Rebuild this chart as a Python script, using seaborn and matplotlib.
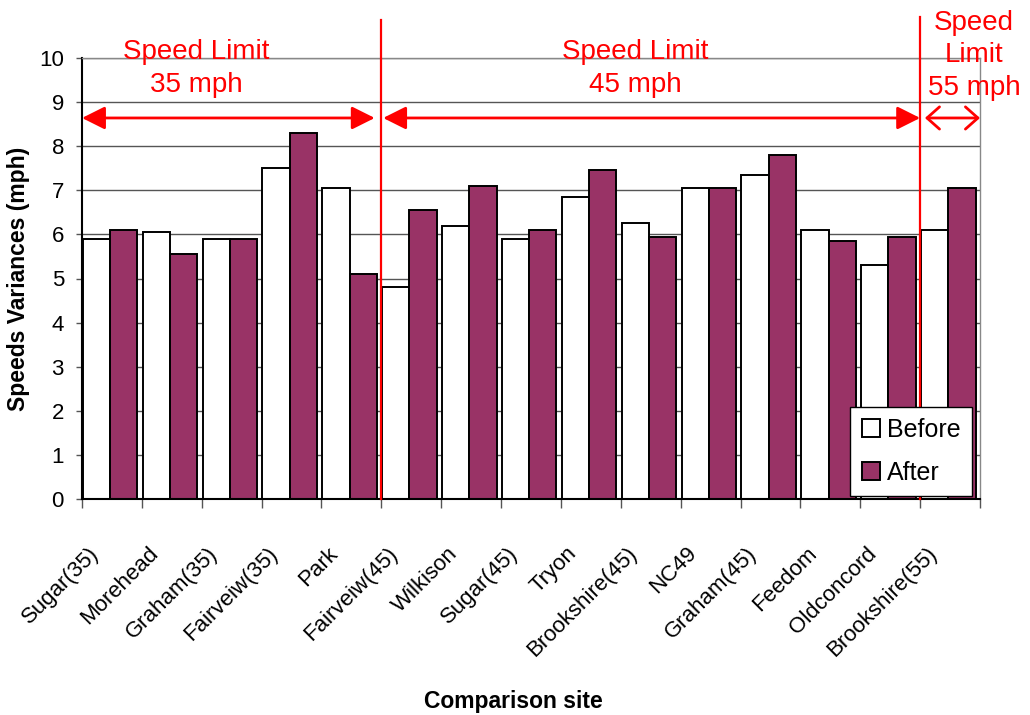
import numpy as np
import pandas as pd
import seaborn as sns
import matplotlib
matplotlib.use("Agg")
import matplotlib.pyplot as plt
from matplotlib.patches import FancyArrowPatch
from matplotlib.transforms import ScaledTranslation

# Comparison sites, their posted speed limit and the speed variances
sites = ["Sugar(35)", "Morehead", "Graham(35)", "Fairveiw(35)", "Park",
         "Fairveiw(45)", "Wilkison", "Sugar(45)", "Tryon", "Brookshire(45)",
         "NC49", "Graham(45)", "Feedom", "Oldconcord", "Brookshire(55)"]
speed_limits = [35, 35, 35, 35, 35, 45, 45, 45, 45, 45, 45, 45, 45, 45, 55]
before = [5.9, 6.05, 5.9, 7.5, 7.05, 4.8, 6.2, 5.9, 6.85, 6.25, 7.05, 7.35, 6.1, 5.3, 6.1]
after = [6.1, 5.55, 5.9, 8.3, 5.1, 6.55, 7.1, 6.1, 7.45, 5.95, 7.05, 7.8, 5.85, 5.95, 7.05]
periods = ["Before", "After"]
y_ticks = list(range(0, 11))

df = pd.DataFrame({
    "site": sites * 2,
    "period": [periods[0]] * len(sites) + [periods[1]] * len(sites),
    "value": before + after,
})

plt.rcParams["font.family"] = ["Liberation Sans", "DejaVu Sans"]

fig = plt.figure(figsize=(10.3, 7.15), dpi=100)
ax = fig.add_axes([82 / 1030, 1 - 499 / 715, 898 / 1030, 441 / 715])

sns.barplot(data=df, x="site", y="value", hue="period", hue_order=periods,
            palette={"Before": "white", "After": "#993366"}, saturation=1,
            width=0.91, gap=0, edgecolor="black", linewidth=1.4,
            errorbar=None, legend=False, ax=ax)

# category bands: group is offset slightly left inside each band
left_pad = 0.47
ax.set_xlim(-left_pad, len(sites) - left_pad)
ax.set_ylim(0, 10)
ax.set_yticks(y_ticks)
ax.set_axisbelow(True)
ax.yaxis.grid(True, color="#555555", lw=1)
ax.xaxis.grid(False)

for side in ("left", "bottom"):
    ax.spines[side].set_color("black")
    ax.spines[side].set_linewidth(1.5)
for side in ("top", "right"):
    ax.spines[side].set_color("#888888")
    ax.spines[side].set_linewidth(1)

ax.tick_params(axis="y", length=4.5, width=1, color="#555555", labelsize=16, pad=8.5)
ax.set_xticks(range(len(sites)), sites)
ax.set_xticks(np.arange(len(sites) + 1) - left_pad, minor=True)
ax.tick_params(axis="x", which="minor", length=6.5, width=1, color="#555555")
ax.tick_params(axis="x", which="major", length=0, pad=37, labelsize=16)
shift = ScaledTranslation(-15 / 100, 0, fig.dpi_scale_trans)
for lbl in ax.get_xticklabels():
    lbl.set_rotation(45)
    lbl.set_ha("right")
    lbl.set_va("center")
    lbl.set_rotation_mode("anchor")
    lbl.set_transform(lbl.get_transform() + shift)

ax.set_xlabel("Comparison site", fontsize=16.5, fontweight="bold")
ax.xaxis.set_label_coords(0.48, -0.434)
ax.set_ylabel("Speeds Variances (mph)", fontsize=16.5, fontweight="bold")
ax.yaxis.set_label_coords(-0.058, 0.5)

# speed-limit zones: separators, extent arrows and captions
bounds = [-left_pad] + [i - left_pad for i in range(1, len(sites))
                        if speed_limits[i] != speed_limits[i - 1]] + [len(sites) - left_pad]
line_tops = [10.86, 10.93]
for b, top in zip(bounds[1:-1], line_tops):
    ax.plot([b, b], [0, top], color="red", lw=1.6, clip_on=False, zorder=5)

arrow_y = 8.64
filled = "<|-|>,head_length=0.7,head_width=0.35"
ax.add_patch(FancyArrowPatch((bounds[0], arrow_y), (bounds[1] - 0.11, arrow_y),
                             arrowstyle=filled, mutation_scale=20, color="red",
                             lw=2, shrinkA=0, shrinkB=0, zorder=5))
ax.add_patch(FancyArrowPatch((bounds[1] + 0.03, arrow_y), (bounds[2], arrow_y),
                             arrowstyle=filled, mutation_scale=20, color="red",
                             lw=2, shrinkA=0, shrinkB=0, zorder=5))
ax.add_patch(FancyArrowPatch((bounds[2] + 0.08, arrow_y), (bounds[3], arrow_y),
                             arrowstyle="<->,head_length=0.45,head_width=0.4",
                             mutation_scale=20, color="red", lw=2,
                             shrinkA=0, shrinkB=0, zorder=5, clip_on=False))

captions = ["Speed Limit\n35 mph", "Speed Limit\n45 mph", "Speed\nLimit\n55 mph"]
cap_x = [1.434, 8.767, 14.43]
cap_y = [9.76, 9.76, 10.06]
for txt, cx, cy in zip(captions, cap_x, cap_y):
    ax.text(cx, cy, txt, ha="center", va="center", color="red", fontsize=20,
            linespacing=1.32, zorder=6)

leg = ax.legend(ax.containers, periods, loc="lower right",
                bbox_to_anchor=(0.991, 0.007), borderaxespad=0, fontsize=18,
                handlelength=0.72, handleheight=0.72, handletextpad=0.3,
                labelspacing=0.75, borderpad=0.45, fancybox=False, framealpha=1)
leg.get_frame().set_edgecolor("black")
leg.get_frame().set_linewidth(1)

fig.savefig("out.png", dpi=100)
